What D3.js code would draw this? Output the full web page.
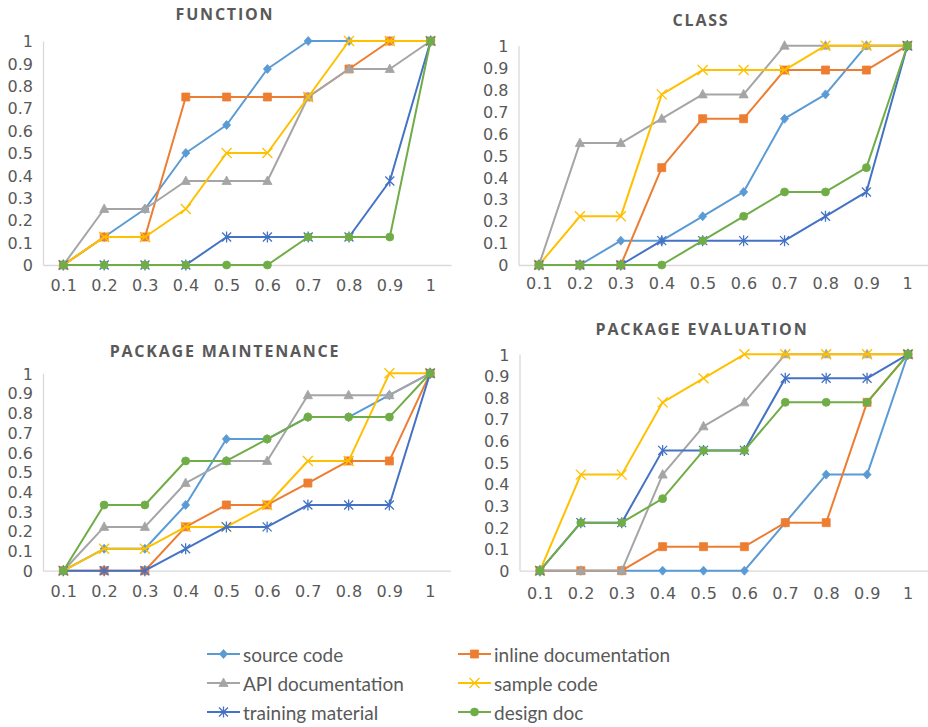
<!DOCTYPE html>
<html>
<head>
<meta charset="utf-8">
<script src="https://cdn.jsdelivr.net/npm/d3@7"></script>
<style>
  body { margin: 0; background: #fff; }
  svg { display: block; }
</style>
</head>
<body>
<svg id="chart" width="928" height="727"></svg>
<script>
// ---- data -------------------------------------------------------------
const categories = ["0.1", "0.2", "0.3", "0.4", "0.5", "0.6", "0.7", "0.8", "0.9", "1"];
const yTickValues = [0, 0.1, 0.2, 0.3, 0.4, 0.5, 0.6, 0.7, 0.8, 0.9, 1];
const yTickLabels = ["0", "0.1", "0.2", "0.3", "0.4", "0.5", "0.6", "0.7", "0.8", "0.9", "1"];

const seriesNames = ["source code", "inline documentation", "API documentation",
                     "sample code", "training material", "design doc"];
const seriesColors = ["#5B9BD5", "#ED7D31", "#A5A5A5", "#FFC000", "#4472C4", "#70AD47"];
const seriesMarkers = ["diamond", "square", "triangle", "x", "star", "circle"];

const panelTitles = ["FUNCTION", "CLASS", "PACKAGE MAINTENANCE", "PACKAGE EVALUATION"];

// one row per series, in the order of seriesNames
const functionSeries = [
  [0, 0.125, 0.25, 0.5, 0.625, 0.875, 1, 1, 1, 1],
  [0, 0.125, 0.125, 0.75, 0.75, 0.75, 0.75, 0.875, 1, 1],
  [0, 0.25, 0.25, 0.375, 0.375, 0.375, 0.75, 0.875, 0.875, 1],
  [0, 0.125, 0.125, 0.25, 0.5, 0.5, 0.75, 1, 1, 1],
  [0, 0, 0, 0, 0.125, 0.125, 0.125, 0.125, 0.375, 1],
  [0, 0, 0, 0, 0, 0, 0.125, 0.125, 0.125, 1]
];
const classSeries = [
  [0, 0, 0.111, 0.111, 0.222, 0.333, 0.667, 0.778, 1, 1],
  [0, 0, 0, 0.444, 0.667, 0.667, 0.889, 0.889, 0.889, 1],
  [0, 0.556, 0.556, 0.667, 0.778, 0.778, 1, 1, 1, 1],
  [0, 0.222, 0.222, 0.778, 0.889, 0.889, 0.889, 1, 1, 1],
  [0, 0, 0, 0.111, 0.111, 0.111, 0.111, 0.222, 0.333, 1],
  [0, 0, 0, 0, 0.111, 0.222, 0.333, 0.333, 0.444, 1]
];
const maintenanceSeries = [
  [0, 0.111, 0.111, 0.333, 0.667, 0.667, 0.778, 0.778, 0.889, 1],
  [0, 0, 0, 0.222, 0.333, 0.333, 0.444, 0.556, 0.556, 1],
  [0, 0.222, 0.222, 0.444, 0.556, 0.556, 0.889, 0.889, 0.889, 1],
  [0, 0.111, 0.111, 0.222, 0.222, 0.333, 0.556, 0.556, 1, 1],
  [0, 0, 0, 0.111, 0.222, 0.222, 0.333, 0.333, 0.333, 1],
  [0, 0.333, 0.333, 0.556, 0.556, 0.667, 0.778, 0.778, 0.778, 1]
];
const evaluationSeries = [
  [0, 0, 0, 0, 0, 0, 0.222, 0.444, 0.444, 1],
  [0, 0, 0, 0.111, 0.111, 0.111, 0.222, 0.222, 0.778, 1],
  [0, 0, 0, 0.444, 0.667, 0.778, 1, 1, 1, 1],
  [0, 0.444, 0.444, 0.778, 0.889, 1, 1, 1, 1, 1],
  [0, 0.222, 0.222, 0.556, 0.556, 0.556, 0.889, 0.889, 0.889, 1],
  [0, 0.222, 0.222, 0.333, 0.556, 0.556, 0.778, 0.778, 0.778, 1]
];

// ---- layout -----------------------------------------------------------
const panels = [
  { title: panelTitles[0], series: functionSeries,    left: 43,    right: 451,   top: 41,    bottom: 265,   titleX: 225, titleY: 14,  labelY: 285 },
  { title: panelTitles[1], series: classSeries,       left: 518.5, right: 927.8, top: 45.7,  bottom: 265,   titleX: 701, titleY: 20,  labelY: 283 },
  { title: panelTitles[2], series: maintenanceSeries, left: 43,    right: 450.5, top: 373.3, bottom: 570.7, titleX: 225, titleY: 351, labelY: 591 },
  { title: panelTitles[3], series: evaluationSeries,  left: 519.5, right: 928.4, top: 354.3, bottom: 570.7, titleX: 702, titleY: 329, labelY: 593 }
];

const TEXT = "#595959";
const AXIS = "#D9D9D9";
const svg = d3.select("#chart");

function markerPath(kind) {
  const p = d3.path();
  switch (kind) {
    case "diamond": p.moveTo(0, -4.5); p.lineTo(4, 0); p.lineTo(0, 4.5); p.lineTo(-4, 0); p.closePath(); break;
    case "square": p.rect(-4, -4, 8, 8); break;
    case "triangle": p.moveTo(0, -5); p.lineTo(4.6, 3.5); p.lineTo(-4.6, 3.5); p.closePath(); break;
    case "circle": p.arc(0, 0, 4, 0, 2 * Math.PI); break;
    case "x": p.moveTo(-5, -5); p.lineTo(5, 5); p.moveTo(5, -5); p.lineTo(-5, 5); break;
    case "star": p.moveTo(-4.5, -4.5); p.lineTo(4.5, 4.5); p.moveTo(4.5, -4.5); p.lineTo(-4.5, 4.5);
                 p.moveTo(0, -5.5); p.lineTo(0, 5.5); break;
  }
  return p.toString();
}

function drawMarker(g, kind, color, x, y) {
  const stroked = kind === "x" || kind === "star";
  g.append("path")
    .attr("transform", `translate(${x},${y})`)
    .attr("d", markerPath(kind))
    .attr("fill", stroked ? "none" : color)
    .attr("stroke", color)
    .attr("stroke-width", stroked ? 1.3 : 0.8);
}

panels.forEach(panel => {
  const g = svg.append("g");
  const x = d3.scalePoint().domain(categories).range([panel.left, panel.right]).padding(0.5);
  const y = d3.scaleLinear().domain([0, 1]).range([panel.bottom, panel.top]);

  // title
  g.append("text")
    .attr("x", panel.titleX).attr("y", panel.titleY)
    .attr("text-anchor", "middle").attr("dominant-baseline", "central")
    .attr("font-family", "'Open Sans', sans-serif").attr("font-weight", 700)
    .attr("font-size", 16).attr("letter-spacing", 1.8)
    .attr("fill", TEXT).text(panel.title);

  // y axis
  const yAxis = d3.axisLeft(y).tickValues(yTickValues)
    .tickFormat((d, i) => yTickLabels[i]).tickSize(0).tickPadding(10);
  const ya = g.append("g").attr("transform", `translate(${panel.left},0)`).call(yAxis);
  ya.select(".domain").attr("stroke", AXIS).attr("stroke-width", 1.3);
  ya.selectAll("text").attr("fill", TEXT).attr("font-size", 16)
    .attr("font-family", "'DejaVu Sans', sans-serif")
    .attr("dy", "0.36em");

  // x axis
  const xAxis = d3.axisBottom(x).tickSize(0).tickPadding(0);
  const xa = g.append("g").attr("transform", `translate(0,${panel.bottom})`).call(xAxis);
  xa.select(".domain").attr("stroke", AXIS).attr("stroke-width", 1.3);
  xa.selectAll("text").attr("fill", TEXT).attr("font-size", 16)
    .attr("font-family", "'DejaVu Sans', sans-serif")
    .attr("letter-spacing", 0.5)
    .attr("y", panel.labelY - panel.bottom).attr("dy", "0.36em");

  // series lines and markers
  const line = d3.line().x((d, i) => x(categories[i])).y(d => y(d));
  panel.series.forEach((vals, s) => {
    g.append("path").datum(vals)
      .attr("d", line).attr("fill", "none")
      .attr("stroke", seriesColors[s]).attr("stroke-width", 2)
      .attr("stroke-linejoin", "round");
    const mg = g.append("g");
    vals.forEach((v, i) => drawMarker(mg, seriesMarkers[s], seriesColors[s], x(categories[i]), y(v)));
  });
});

// ---- legend -----------------------------------------------------------
const legendCols = [207, 458];
const legendRows = [654, 683, 712];
const legend = svg.append("g");
seriesNames.forEach((name, i) => {
  const lx = legendCols[i % 2], ly = legendRows[Math.floor(i / 2)];
  legend.append("line").attr("x1", lx).attr("x2", lx + 33).attr("y1", ly).attr("y2", ly)
    .attr("stroke", seriesColors[i]).attr("stroke-width", 2);
  drawMarker(legend, seriesMarkers[i], seriesColors[i], lx + 16.5, ly);
  legend.append("text").attr("x", lx + 36).attr("y", ly)
    .attr("dominant-baseline", "central")
    .attr("font-family", "Lato, sans-serif").attr("font-size", 19)
    .attr("fill", TEXT).text(name);
});
</script>
</body>
</html>
